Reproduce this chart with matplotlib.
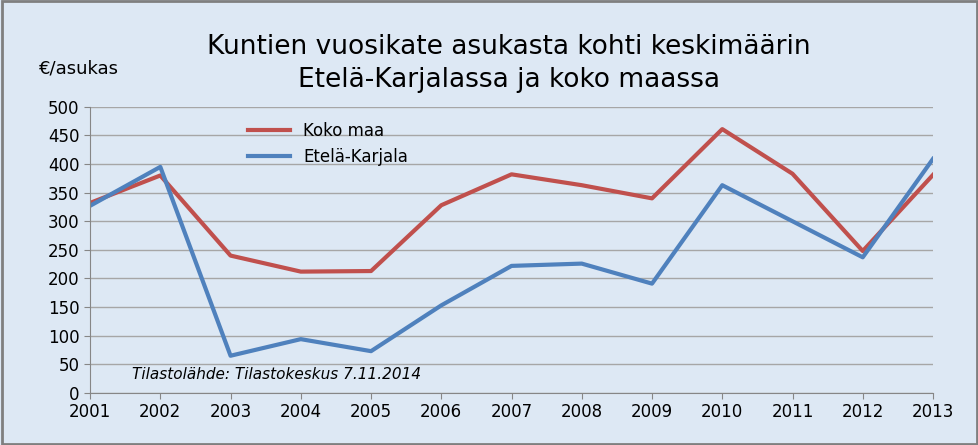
import matplotlib.pyplot as plt
from matplotlib.patches import Rectangle

years = [2001, 2002, 2003, 2004, 2005, 2006, 2007, 2008, 2009, 2010, 2011, 2012, 2013]
koko_maa = [332, 380, 240, 212, 213, 328, 382, 363, 340, 461, 383, 248, 381]
etela_karjala = [327, 395, 65, 94, 73, 153, 222, 226, 191, 363, 300, 237, 409]

bg = '#dde8f4'
fig = plt.figure(figsize=(9.79, 4.45), dpi=100, facecolor=bg)
fig.patches.append(Rectangle((0.002, 0.003), 0.996, 0.994, transform=fig.transFigure,
                             fill=False, edgecolor='#7f7f7f', linewidth=2))

ax = fig.add_axes([0.092, 0.117, 0.861, 0.643])
ax.set_facecolor(bg)
ax.plot(years, koko_maa, color='#c0504d', linewidth=3, label='Koko maa')
ax.plot(years, etela_karjala, color='#4f81bd', linewidth=3, label='Etelä-Karjala')

ax.set_xlim(2001, 2013)
ax.set_ylim(0, 500)
ax.set_xticks(years)
ax.set_yticks(range(0, 501, 50))
ax.tick_params(labelsize=12, length=4, color='#868686')
ax.grid(axis='y', color='#a6a6a6', linewidth=1)
ax.set_axisbelow(True)
for s in ['top', 'right']:
    ax.spines[s].set_visible(False)
for s in ['left', 'bottom']:
    ax.spines[s].set_color('#868686')

ax.legend(loc='upper left', bbox_to_anchor=(0.17, 1.0), frameon=False, fontsize=12,
          handlelength=2.5)

fig.text(0.52, 0.895, 'Kuntien vuosikate asukasta kohti keskimäärin', ha='center',
         va='center', fontsize=19)
fig.text(0.52, 0.82, 'Etelä-Karjalassa ja koko maassa', ha='center', va='center', fontsize=19)
fig.text(0.04, 0.845, '€/asukas', ha='left', va='center', fontsize=13)
ax.text(0.05, 0.05, 'Tilastolähde: Tilastokeskus 7.11.2014', transform=ax.transAxes,
        fontsize=11, style='italic')

fig.savefig('out.png', dpi=100, facecolor=bg)
